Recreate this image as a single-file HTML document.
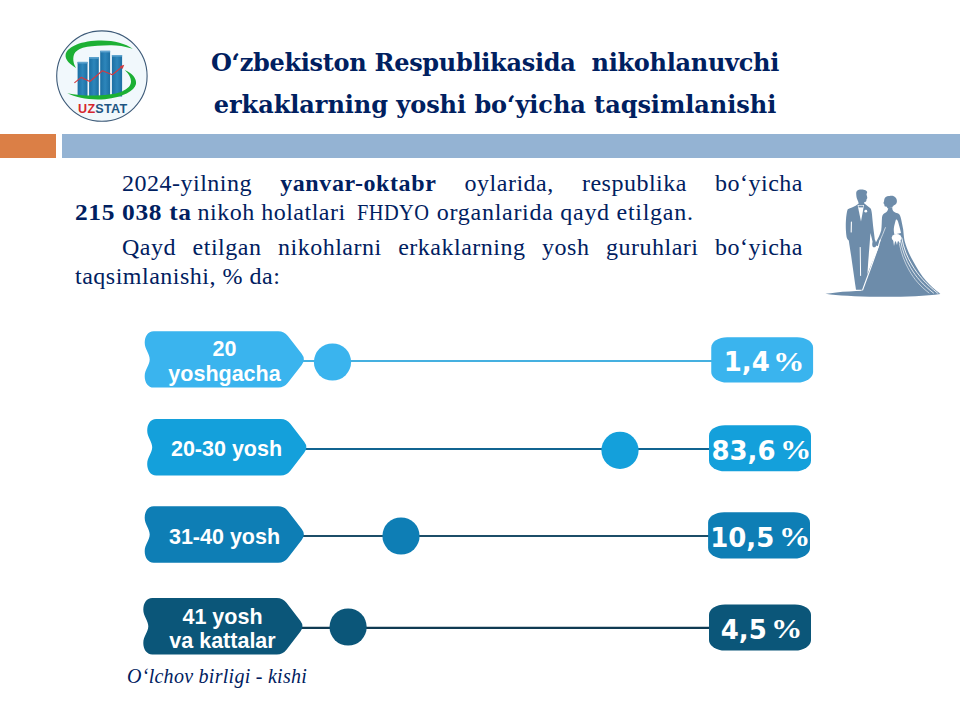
<!DOCTYPE html>
<html>
<head>
<meta charset="utf-8">
<style>
html,body{margin:0;padding:0;background:#fff;}
#s{position:relative;width:960px;height:720px;overflow:hidden;background:#fff;}
.a{position:absolute;white-space:pre;}
.ttl{font-family:"DejaVu Serif",serif;font-weight:700;font-size:24px;color:#002060;line-height:30px;letter-spacing:-0.3px;width:960px;text-align:center;left:15px;}
.bd{font-family:"Liberation Serif",serif;font-size:24px;color:#002060;line-height:29px;left:75px;width:728px;white-space:normal;text-align:justify;letter-spacing:0.5px;}
.bd span.l{display:block;text-align:justify;text-align-last:justify;}
.bd b{letter-spacing:0.6px;}
.lab{font-family:"Liberation Sans",sans-serif;font-weight:700;font-size:21.5px;color:#fff;text-align:center;line-height:24.5px;}
.pct{font-family:"DejaVu Sans",sans-serif;font-weight:700;font-size:26px;line-height:30px;color:#fff;text-align:center;}
.pn{width:80px;text-align:right;transform:none;}
.pp{font-family:"Liberation Serif",serif;font-size:28px;transform:scaleX(1.12);transform-origin:0 50%;}
.ft{font-family:"Liberation Serif",serif;font-style:italic;font-size:20px;color:#002060;letter-spacing:0.27px;}
</style>
</head>
<body>
<div id="s">
  <!-- logo -->
  <svg class="a" style="left:50px;top:25px" width="105" height="105" viewBox="50 25 105 105">
    <defs>
      <linearGradient id="bg" x1="0" y1="0" x2="1" y2="0">
        <stop offset="0" stop-color="#1c6fa3"/><stop offset="0.5" stop-color="#2d86bb"/><stop offset="1" stop-color="#1c6fa3"/>
      </linearGradient>
    </defs>
    <circle cx="101.9" cy="76.1" r="45.2" fill="#f1f8fc" stroke="#3d5a78" stroke-width="1.1"/>
    <path fill="#1cb034" d="M76,68 C70,64 65,60 65.6,55 C66.5,48 78,41.5 98,40.6 C113,40 125,43.5 132.7,48.7 C124,46 116,45 110,45.2 C101,45.5 93,45.8 87.3,46.7 C81,47.8 76.5,50 74.5,53.5 C72.5,57.5 73,63 76,68 Z"/>
        <g>
      <rect x="77.6" y="61.9" width="9.9" height="34.6" fill="url(#bg)"/>
      <rect x="89.1" y="57.1" width="9.7" height="39.4" fill="url(#bg)"/>
      <rect x="100.2" y="50.8" width="9.9" height="45.7" fill="url(#bg)"/>
      <rect x="111.9" y="55" width="10.2" height="41.5" fill="url(#bg)"/>
      <rect x="77.6" y="61.9" width="9.9" height="1.6" fill="#5fa4cf"/>
      <rect x="89.1" y="57.1" width="9.7" height="1.6" fill="#5fa4cf"/>
      <rect x="100.2" y="50.8" width="9.9" height="1.6" fill="#5fa4cf"/>
      <rect x="111.9" y="55" width="10.2" height="1.6" fill="#5fa4cf"/>
    </g>
    <path fill="#1cb034" d="M124.7,70 C132,73 137,78.5 136,84 C134.5,91 123,97 105,99.2 C90,100.5 76,97.5 67.3,93.3 C78,95.5 90,96 100.7,95.3 C110,94.6 118,93.5 122,91.5 C128,88.5 131,85.5 131,81.5 C131,77 128,73 124.7,70 Z"/>
    <path d="M74.4,82.9 L81.2,77.4 L89.8,81.5 L102.4,70.7 L112.4,74.7 L122.2,66.6" fill="none" stroke="#d33a3f" stroke-width="1.2" stroke-linejoin="round"/>
    <path d="M124.3,64.8 L119.8,66.2 L122.6,69 Z" fill="#d33a3f"/>
    <text x="102.7" y="113.3" text-anchor="middle" font-family="Liberation Sans, sans-serif" font-weight="700" font-size="12.6" letter-spacing="0.25"><tspan fill="#d6262d">UZ</tspan><tspan fill="#1d5582">STAT</tspan></text>
  </svg>

  <!-- couple -->
  <svg class="a" style="left:815px;top:180px" width="140" height="125" viewBox="815 180 140 125">
    <g fill="#6d8caa">
      <!-- groom head -->
      <path d="M856.2,193.5 C856,190.5 858.5,189.2 861.5,189.4 C864.5,189.5 867.3,190.5 867.2,192.2 C866.8,193.2 866.4,194 866.6,195 C867,196.5 867.6,197.8 867.1,198.6 C866.6,199 866.4,199.6 866.4,200.4 C866.2,201.6 865.2,202 864,202.3 L864.2,204 L858.8,204 C858.6,202.5 858,201 857.3,199.6 C856.4,197.6 856.3,195.5 856.2,193.5 Z"/>
      <!-- groom body -->
      <path d="M858.8,203.4 L864.4,203.4 C866.5,205 868.6,206.6 870.4,208.2 C871.3,209 872,212 872.5,220 C873.2,228 874.2,234 874.8,239.5 C875.6,241 876.4,243 876.2,245.5 C875.8,247.5 873.6,248 872.6,246.5 C872,245 872.2,243 872.6,241.8 C872,239 871.2,236 870.4,233 C870,240 869,252 868.2,262 C867.5,272 867,282 866.2,289.8 L856,289.8 C854.8,282 853.5,272 852,262 C851,254 849.5,246 848.8,240.5 C848,240 847,239 846.6,237 C845.8,232 845.6,226 845.9,221 C846.2,216 846.8,212 847.6,209.6 C848.4,208.8 850,208 852,207.4 C854.5,206.4 856.8,205 858.8,203.4 Z"/>
      <!-- bride head -->
      <path d="M884.2,199.7 C884.8,197.1 887,195.7 889.6,196.1 C891.2,195.5 893.5,195.7 895,197.1 C896.8,198.7 897.4,201.1 896.6,203.1 C896.1,204.3 895,205.1 893.6,205.5 C893,206.7 892.4,206.3 892.2,207.6 L887.4,208.2 C887.2,207.2 886.6,206.6 885.6,206.6 C884.8,206.4 884.6,206.9 884.8,205.9 C884.2,205.3 884,204.7 884.3,204.1 C883.6,203.7 883.2,203.1 883.6,202.5 C884,201.7 884.2,200.7 884.2,199.7 Z"/>
      <!-- bride body + dress -->
      <path d="M888.3,207.6 L892.3,207.6 C892.2,209.4 892.6,210.8 894,211.8 C895.6,212.8 897.4,213.2 898.6,213.8 C899.8,214.6 900.6,216.6 901.2,219.4 C902,223 902.6,226.4 903.2,229.6 C903.6,233 903.8,237 904.6,241 C906.5,248 909.5,255 913.3,261.5 C917,268 921,275 925.8,280.6 C930,285.5 935,290 940.4,293.8 L861,293.8 C861.5,291 862.4,287.5 863.5,284 C867.2,274 872.2,262 877.6,250 C878.4,248 879,246 879.6,244.4 C878.6,245.8 877.2,246.4 876.2,245.6 C875.3,244.6 875.4,243 876.4,241.6 C878,238.5 880,234.5 881.2,230.5 C881.8,226 881.7,221 882,217.4 C882.3,215 883.4,213.6 885.4,212.8 C887,212.2 888,210.6 888.3,207.6 Z"/>
      <!-- ground shadow -->
      <path d="M825.4,293.8 C840,291.4 860,290.2 885,290.4 C910,290.6 930,291.6 940.5,294 C925,296.4 900,297 878,296.8 C855,296.6 838,295.6 825.4,293.8 Z"/>
    </g>
    <g fill="none" stroke="#ffffff" stroke-linecap="round">
      <!-- gap between groom and dress -->
      <path d="M880.2,240 C876,255 869,272 862.6,290" stroke-width="1.1"/>
      <!-- leg slit -->
      <path d="M860.2,247.5 L860.6,275.5" stroke-width="1"/>
      <!-- arm sliver -->
      <path d="M851.4,222 L851.2,232" stroke-width="1.1"/>
      <!-- veil lines -->
      <path d="M901.8,238 C903.5,248 907,257 912,265 C918,275 926,284 937.5,293" stroke-width="0.9"/>
      <path d="M900.6,241 C902.5,251 906,260 910.5,267.5 C916,277 923,285 933.5,293" stroke-width="0.8"/>
      <path d="M899.4,244 C901.5,254 904.5,262 909,270 C914,279 920,286 929,293" stroke-width="0.7" stroke-opacity="0.85"/>
      <path d="M885.4,227.6 C883.8,232 881.6,237 879.6,241.6" stroke-width="0.8" stroke-opacity="0.8"/>
      <path d="M897.6,207.5 C898.5,210 899.5,212 900.5,214" stroke-width="0.8" stroke-opacity="0.7"/>
    </g>
    <g fill="#ffffff">
      <!-- shirt V -->
      <path d="M857.6,205 L864,205 L861,221.5 Z"/>
      <!-- bouquet -->
      <path d="M896,219.4 C897,219.4 897.6,220 898,221.5 C899,225 900.2,229 901,233 L894.4,234.4 C893.6,231.5 893.6,228.5 894.2,226 C894.8,223.5 895.4,221 896,219.4 Z"/>
      <ellipse cx="896.6" cy="237.8" rx="4.9" ry="3.7"/>
      <path d="M893,239 L894,246 L895.4,240 L897,245 L898,240 L900,244 L900.5,239 Z"/>
      <!-- boutonniere -->
      <circle cx="865.8" cy="211.2" r="1.4"/>
    </g>
    <path d="M858.5,205.6 L863.2,205.6 L863.2,207.4 L858.5,207.4 Z" fill="#6d8caa"/>
  </svg>
  <div class="a ttl" style="top:48px">O‘zbekiston Respublikasida  nikohlanuvchi</div>
  <div class="a ttl" style="top:90px;letter-spacing:-0.05px">erkaklarning yoshi bo‘yicha taqsimlanishi</div>

  <div class="a" style="left:0;top:134px;width:56px;height:24px;background:#db7f46"></div>
  <div class="a" style="left:62px;top:134px;width:898px;height:24px;background:#94b3d3"></div>

  <div class="a bd" style="top:169px">
    <span class="l" style="text-indent:47px">2024-yilning <b>yanvar-oktabr</b> oylarida, respublika bo‘yicha</span>
    <span><b style="display:inline-block;transform:scaleX(1.06);transform-origin:0 0;margin-right:6px">215 038 ta</b> nikoh holatlari <span style="display:inline-block;transform:scaleX(0.85);transform-origin:0 0;margin-left:5px;margin-right:-12px">FHDYO</span> <span style="letter-spacing:0.72px">organlarida qayd etilgan.</span></span>
  </div>
  <div class="a bd" style="top:233px">
    <span class="l" style="text-indent:47px">Qayd etilgan nikohlarni erkaklarning yosh guruhlari bo‘yicha</span>
    <span>taqsimlanishi, % da:</span>
  </div>

  <svg class="a" style="left:0;top:0" width="960" height="720" viewBox="0 0 960 720">
  <line x1="294.7" y1="361" x2="716.25" y2="361" stroke="#45b0e0" stroke-width="2.2"/>
  <path transform="translate(144.7,331.2)" fill="#3ab4ee" d="M9,0 L133.5,0 Q139.5,0 143.17,4.75 L157,22.66 Q161.3,28.2 157,33.74 L143.17,51.65 Q139.5,56.4 133.5,56.4 L9,56.4 C3,56.4 0,51 0,45 C0,38 5,34 5,28.2 C5,22.4 0,18.4 0,11.4 C0,5.4 3,0 9,0 Z"/>
  <circle cx="332.5" cy="362" r="18.6" fill="#3ab4ee"/>
  <rect x="711.25" y="337.25" width="101.85" height="45.25" rx="16" ry="10.5" fill="#3ab4ee"/>
  <line x1="297.2" y1="449" x2="714" y2="449" stroke="#116491" stroke-width="2.2"/>
  <path transform="translate(147.2,419.1)" fill="#14a0db" d="M9,0 L133.5,0 Q139.5,0 143.17,4.75 L157,22.66 Q161.3,28.2 157,33.74 L143.17,51.65 Q139.5,56.4 133.5,56.4 L9,56.4 C3,56.4 0,51 0,45 C0,38 5,34 5,28.2 C5,22.4 0,18.4 0,11.4 C0,5.4 3,0 9,0 Z"/>
  <circle cx="620" cy="450.3" r="18.6" fill="#14a0db"/>
  <rect x="709" y="425.25" width="102.00" height="46.00" rx="16" ry="10.5" fill="#14a0db"/>
  <line x1="294.7" y1="536" x2="713.1" y2="536" stroke="#1c4e68" stroke-width="2.2"/>
  <path transform="translate(144.7,506.25)" fill="#0e7eb5" d="M9,0 L133.5,0 Q139.5,0 143.17,4.75 L157,22.66 Q161.3,28.2 157,33.74 L143.17,51.65 Q139.5,56.4 133.5,56.4 L9,56.4 C3,56.4 0,51 0,45 C0,38 5,34 5,28.2 C5,22.4 0,18.4 0,11.4 C0,5.4 3,0 9,0 Z"/>
  <circle cx="401" cy="536" r="18.6" fill="#0e7eb5"/>
  <rect x="708.1" y="512.25" width="101.90" height="46.25" rx="16" ry="10.5" fill="#0e7eb5"/>
  <line x1="293.3" y1="627.8" x2="714" y2="627.8" stroke="#0f3a52" stroke-width="2.2"/>
  <path transform="translate(143.3,598.1)" fill="#0b5679" d="M9,0 L133.5,0 Q139.5,0 143.17,4.75 L157,22.66 Q161.3,28.2 157,33.74 L143.17,51.65 Q139.5,56.4 133.5,56.4 L9,56.4 C3,56.4 0,51 0,45 C0,38 5,34 5,28.2 C5,22.4 0,18.4 0,11.4 C0,5.4 3,0 9,0 Z"/>
  <circle cx="348.1" cy="627" r="18.6" fill="#0b5679"/>
  <rect x="709" y="604.4" width="102.00" height="46.20" rx="16" ry="10.5" fill="#0b5679"/>
  </svg>

  <div class="a lab" style="left:145px;top:337px;width:159px">20<br>yoshgacha</div>
  <div class="a lab" style="left:147px;top:437px;width:159px">20-30 yosh</div>
  <div class="a lab" style="left:145px;top:524.5px;width:159px">31-40 yosh</div>
  <div class="a lab" style="left:143px;top:604.5px;width:159px">41 yosh<br>va kattalar</div>
  <div class="a pct pn" style="left:689.80px;top:346.5px">1,4</div>
  <div class="a pct pp" style="left:772.90px;top:347.0px">%</div>
  <div class="a pct pn" style="left:695.55px;top:435.5px">83,6</div>
  <div class="a pct pp" style="left:780.15px;top:435.0px">%</div>
  <div class="a pct pn" style="left:694.30px;top:522.5px">10,5</div>
  <div class="a pct pp" style="left:778.90px;top:522.0px">%</div>
  <div class="a pct pn" style="left:686.80px;top:614.5px">4,5</div>
  <div class="a pct pp" style="left:770.80px;top:614.0px">%</div>
  <div class="a ft" style="left:127px;top:665px">O‘lchov birligi - kishi</div>
</div>
</body>
</html>
